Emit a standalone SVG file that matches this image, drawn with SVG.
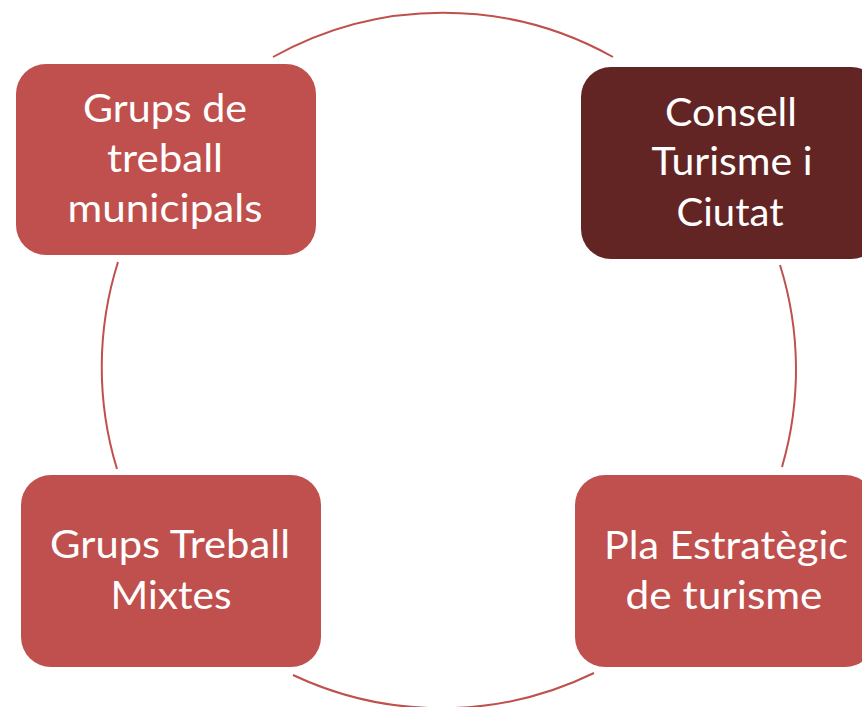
<svg xmlns="http://www.w3.org/2000/svg" width="862" height="707" viewBox="0 0 862 707">
<style>
.box{fill:#C0504D;}
.dark{fill:#632523;}
.lbl{fill:#ffffff;font-family:Lato,"Open Sans","Liberation Sans",sans-serif;font-size:39px;text-anchor:middle;}
.arc{fill:none;stroke:#C0504D;stroke-width:2;}
</style>
<rect width="862" height="707" fill="#ffffff"/>
<g id="connectors">
<path class="arc" d="M273,57 A348,348 0 0 1 613,57"/>
<path class="arc" d="M780,265 A348,348 0 0 1 782,467"/>
<path class="arc" d="M594,673 A348,348 0 0 1 293,675"/>
<path class="arc" d="M117,469 A348,348 0 0 1 118,262"/>
</g>
<g id="node-grups-municipals">
<rect class="box" x="16" y="64" width="300" height="191" rx="30"/>
<text class="lbl" x="165" y="122" textLength="164" lengthAdjust="spacingAndGlyphs">Grups de</text>
<text class="lbl" x="165" y="172" textLength="116" lengthAdjust="spacingAndGlyphs">treball</text>
<text class="lbl" x="165" y="222" textLength="195" lengthAdjust="spacingAndGlyphs">municipals</text>
</g>
<g id="node-consell">
<rect class="dark" x="581" y="67" width="300" height="192" rx="30"/>
<text class="lbl" x="731" y="126" textLength="132" lengthAdjust="spacingAndGlyphs">Consell</text>
<text class="lbl" x="732" y="175" textLength="161" lengthAdjust="spacingAndGlyphs">Turisme i</text>
<text class="lbl" x="730" y="226" textLength="107" lengthAdjust="spacingAndGlyphs">Ciutat</text>
</g>
<g id="node-grups-mixtes">
<rect class="box" x="21" y="475" width="300" height="192" rx="30"/>
<text class="lbl" x="170" y="558" textLength="240" lengthAdjust="spacingAndGlyphs">Grups Treball</text>
<text class="lbl" x="171" y="609" textLength="121" lengthAdjust="spacingAndGlyphs">Mixtes</text>
</g>
<g id="node-pla">
<rect class="box" x="575" y="475" width="300" height="192" rx="30"/>
<text class="lbl" x="726" y="559" textLength="244" lengthAdjust="spacingAndGlyphs">Pla Estratègic</text>
<text class="lbl" x="724" y="609" textLength="197" lengthAdjust="spacingAndGlyphs">de turisme</text>
</g>
</svg>
